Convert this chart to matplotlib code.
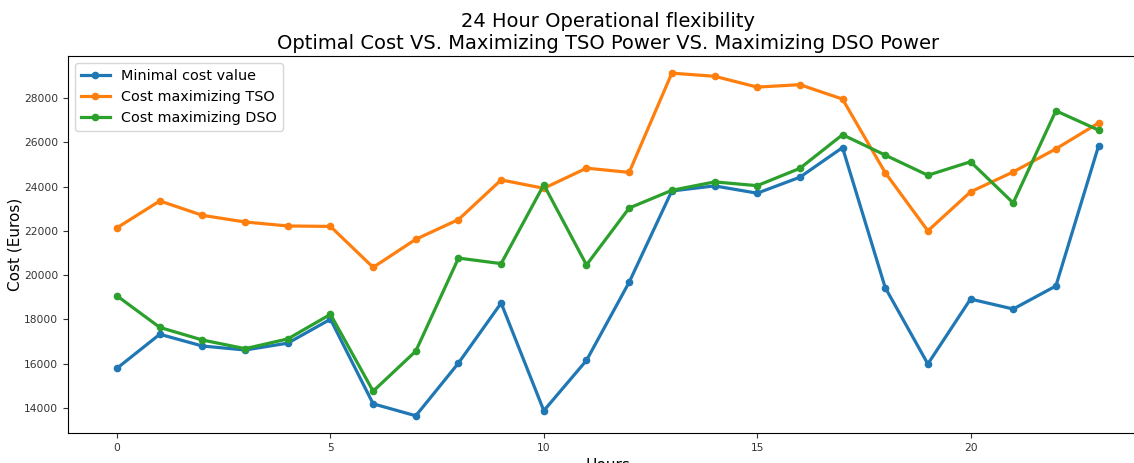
import matplotlib
matplotlib.use("Agg")
import matplotlib.pyplot as plt

# Heures de la journée
heures = list(range(24))

# Coût minimal (Euros)
cout_minimal = [15800, 17330, 16800, 16620, 16930, 18010, 14190, 13650,
                16030, 18740, 13880, 16150, 19680, 23800, 24030, 23700,
                24420, 25760, 19440, 15990, 18920, 18470, 19510, 25830]

# Coût en maximisant la puissance TSO
cout_tso = [22140, 23350, 22700, 22400, 22220, 22200, 20350, 21620,
            22510, 24300, 23920, 24830, 24640, 29120, 28980, 28490,
            28600, 27950, 24630, 22000, 23760, 24660, 25700, 26870]

# Coût en maximisant la puissance DSO
cout_dso = [19060, 17640, 17070, 16680, 17120, 18230, 14760, 16570,
            20770, 20520, 24080, 20460, 23030, 23830, 24210, 24040,
            24820, 26340, 25420, 24510, 25120, 23260, 27420, 26550]

fig = plt.figure(figsize=(11.34, 4.63), dpi=100)
ax = fig.add_axes([0.060, 0.065, 0.952, 0.814])

ax.plot(heures, cout_minimal, marker="o", linewidth=2.3, markersize=4.5,
        label="Minimal cost value")
ax.plot(heures, cout_tso, marker="o", linewidth=2.3, markersize=4.5,
        label="Cost maximizing TSO")
ax.plot(heures, cout_dso, marker="o", linewidth=2.3, markersize=4.5,
        label="Cost maximizing DSO")

ax.set_title("24 Hour Operational flexibility\n"
             "Optimal Cost VS. Maximizing TSO Power VS. Maximizing DSO Power",
             fontsize=14, pad=5)
ax.set_xlabel("Hours", fontsize=11)
ax.set_ylabel("Cost (Euros)", fontsize=11, labelpad=1)
ax.tick_params(labelsize=7.7, colors="#333333")
ax.legend(loc="upper left", fontsize=10.4)

fig.savefig("out.png", dpi=100)
